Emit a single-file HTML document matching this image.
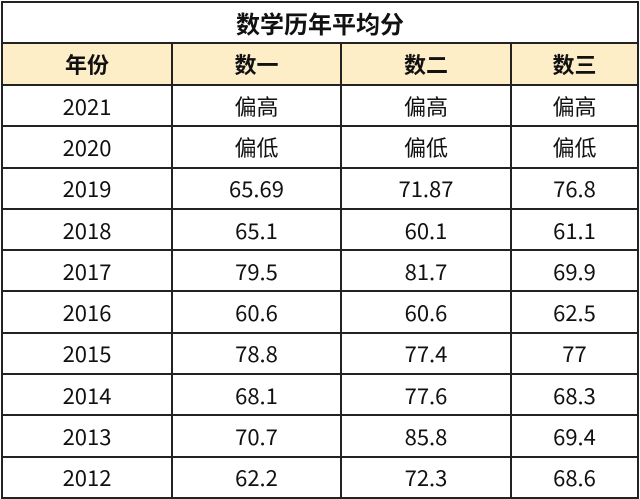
<!DOCTYPE html><html><head><meta charset="utf-8"><style>
body{margin:0;width:640px;height:499px;background:#fff;overflow:hidden;font-family:"Noto Sans CJK SC","Liberation Sans",sans-serif;}
table{position:absolute;left:1px;top:1px;border-collapse:collapse;width:638px;}
td{border:2px solid #222;text-align:center;font-size:22px;color:#111;height:39.3px;padding:0;line-height:24px;}
.t td{font-weight:bold;font-size:24px;height:39px;}
.h td{background:#fdeec8;font-weight:bold;font-size:22px;height:40px;}
</style></head><body>
<table>
<tr class="t"><td colspan="4">数学历年平均分</td></tr>
<tr class="h"><td style="width:168px">年份</td><td style="width:167px">数一</td><td style="width:168px">数二</td><td>数三</td></tr>
<tr><td>2021</td><td>偏高</td><td>偏高</td><td>偏高</td></tr>
<tr><td>2020</td><td>偏低</td><td>偏低</td><td>偏低</td></tr>
<tr><td>2019</td><td>65.69</td><td>71.87</td><td>76.8</td></tr>
<tr><td>2018</td><td>65.1</td><td>60.1</td><td>61.1</td></tr>
<tr><td>2017</td><td>79.5</td><td>81.7</td><td>69.9</td></tr>
<tr><td>2016</td><td>60.6</td><td>60.6</td><td>62.5</td></tr>
<tr><td>2015</td><td>78.8</td><td>77.4</td><td>77</td></tr>
<tr><td>2014</td><td>68.1</td><td>77.6</td><td>68.3</td></tr>
<tr><td>2013</td><td>70.7</td><td>85.8</td><td>69.4</td></tr>
<tr><td>2012</td><td>62.2</td><td>72.3</td><td>68.6</td></tr>
</table></body></html>
